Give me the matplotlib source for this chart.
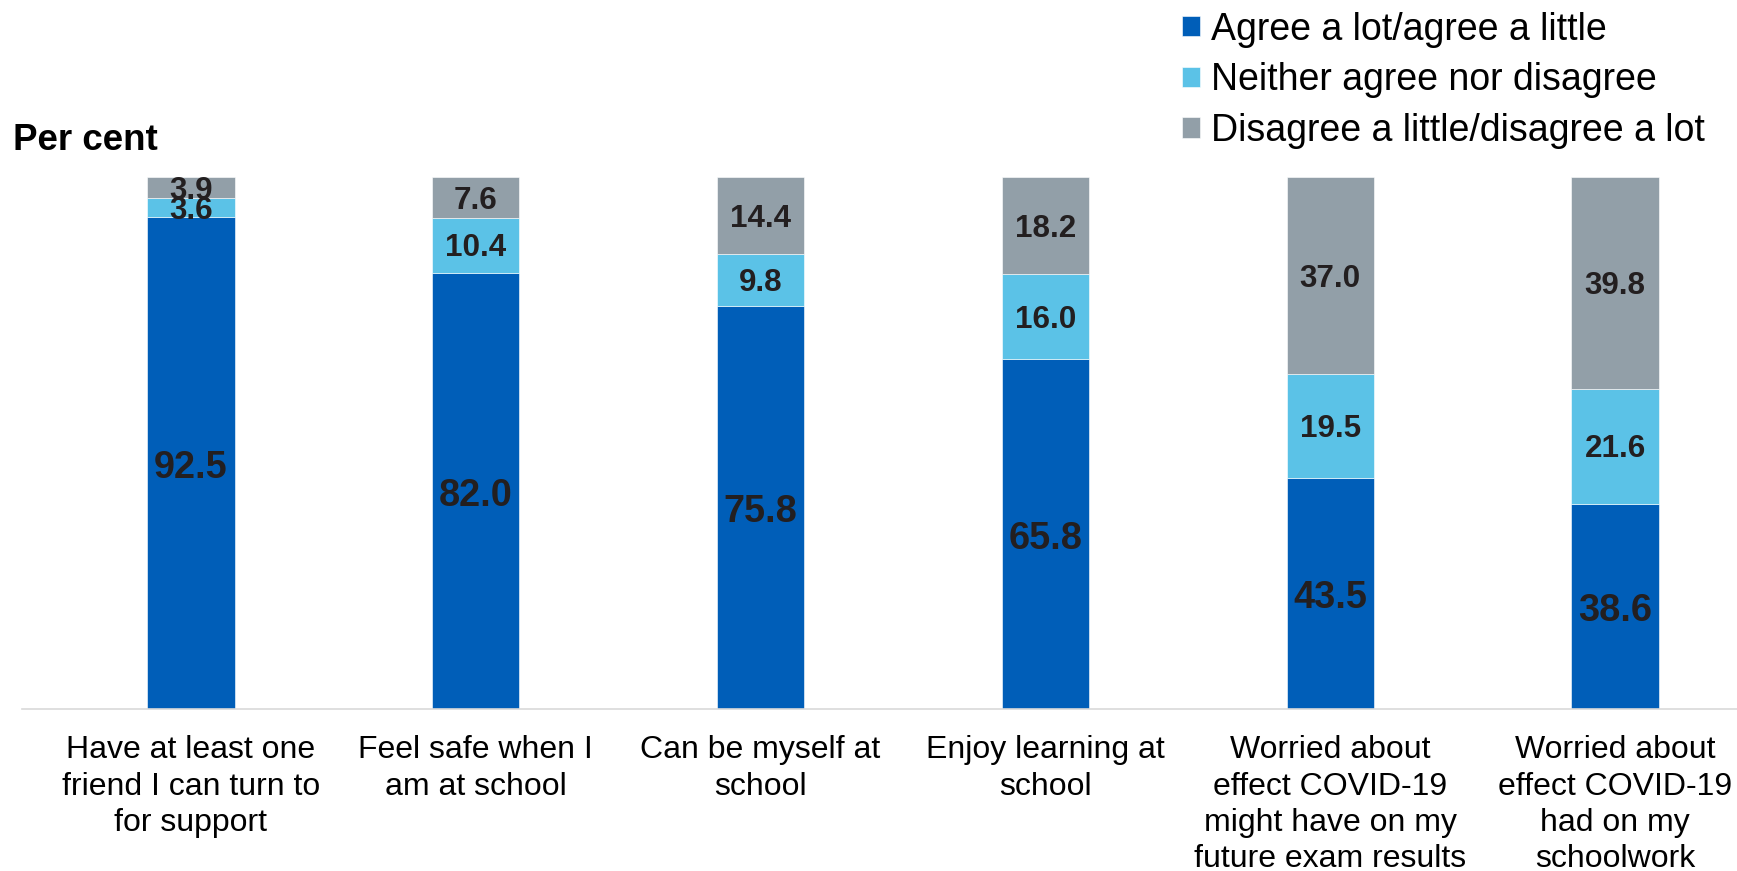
import matplotlib
matplotlib.use("Agg")
import matplotlib.pyplot as plt
import numpy as np

categories = [
    "Have at least one\nfriend I can turn to\nfor support",
    "Feel safe when I\nam at school",
    "Can be myself at\nschool",
    "Enjoy learning at\nschool",
    "Worried about\neffect COVID-19\nmight have on my\nfuture exam results",
    "Worried about\neffect COVID-19\nhad on my\nschoolwork",
]
agree = [92.5, 82.0, 75.8, 65.8, 43.5, 38.6]
neither = [3.6, 10.4, 9.8, 16.0, 19.5, 21.6]
disagree = [3.9, 7.6, 14.4, 18.2, 37.0, 39.8]
series_names = [
    "Agree a lot/agree a little",
    "Neither agree nor disagree",
    "Disagree a little/disagree a lot",
]
colors = ["#005EB8", "#5BC2E7", "#929FA8"]

plt.rcParams["font.family"] = ["Liberation Sans", "DejaVu Sans"]

fig = plt.figure(figsize=(17.37, 8.71), dpi=100)
ax = fig.add_axes([0.0128, 0.186, 0.9872, 0.6104])

x = np.arange(len(categories))
width = 0.307
bottom = np.zeros(len(categories))
containers = []
for vals, col, name in zip([agree, neither, disagree], colors, series_names):
    c = ax.bar(x, vals, width, bottom=bottom, color=col, label=name,
               edgecolor="white", linewidth=0.4)
    containers.append(c)
    big = col == colors[0]
    for xi, b, v in zip(x, bottom, vals):
        ax.annotate(f"{v:.1f}", (xi, b + v / 2),
                    xytext=(0, -4.5 if big else -3), textcoords="offset pixels",
                    ha="center", va="center",
                    fontsize=27.3 if big else 22.6, fontweight="bold",
                    color="#231F20")
    bottom = bottom + np.array(vals)

ax.set_xlim(-0.592, 5.428)
ax.set_ylim(0, 100)
ax.set_yticks([])
for s in ["top", "right", "left"]:
    ax.spines[s].set_visible(False)
ax.spines["bottom"].set_color("#D9D9D9")
ax.spines["bottom"].set_linewidth(1.2)
ax.set_xticks(x)
ax.set_xticklabels(categories, fontsize=23, color="#000000", linespacing=1.27)
ax.tick_params(axis="x", length=0, pad=19)

fig.text(0.0075, 0.839, "Per cent", fontsize=26.5, fontweight="bold",
         ha="left", va="center", color="#000000")

fig.legend(handles=containers, labels=series_names, loc="upper left",
           bbox_to_anchor=(0.672, 1.004), frameon=False, fontsize=27,
           handlelength=0.46, handleheight=0.46, handletextpad=0.3,
           labelspacing=0.39, borderaxespad=0)

fig.savefig("out.png", dpi=100)
